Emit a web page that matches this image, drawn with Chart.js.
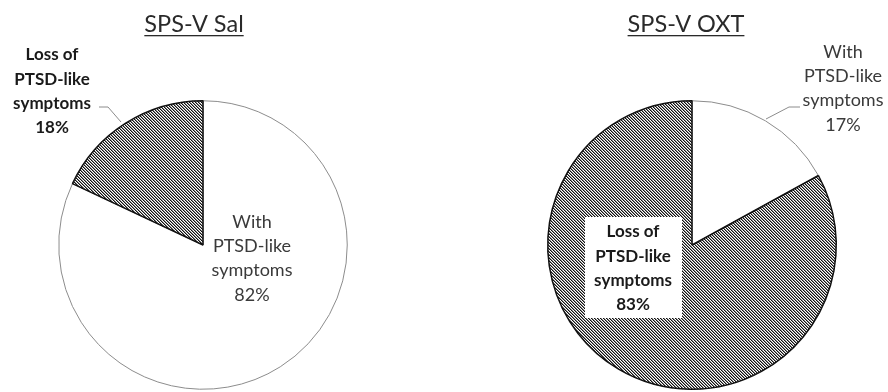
<!DOCTYPE html>
<html lang="en">
<head>
<meta charset="UTF-8">
<title>SPS-V pie charts</title>
<script src="https://cdn.jsdelivr.net/npm/chart.js"></script>
<style>
  html, body { margin: 0; padding: 0; background: #fff; overflow: hidden; }
  .wrap { position: absolute; top: 0; width: 444px; height: 400px; }
  #left { left: 0; }
  #right { left: 444px; }
</style>
</head>
<body>
<div class="wrap" id="left"><canvas id="salChart" width="444" height="400"></canvas></div>
<div class="wrap" id="right"><canvas id="oxtChart" width="444" height="400"></canvas></div>
<script>
// groups and percentages
const titles = ['SPS-V Sal', 'SPS-V OXT'];
const groups = ['With PTSD-like symptoms', 'Loss of PTSD-like symptoms'];
const salValues = [82, 18];
const oxtValues = [17, 83];

const FONT = 'Lato, "Open Sans", sans-serif';

// diagonal hatch used for the "loss" slice
function hatch() {
  const c = document.createElement('canvas');
  c.width = 3; c.height = 3;
  const g = c.getContext('2d');
  g.fillStyle = '#ffffff';
  g.fillRect(0, 0, 3, 3);
  for (let i = 0; i < 3; i++) {
    g.fillStyle = '#111111';
    g.fillRect(i, i, 1, 1);
    g.fillStyle = '#8a8a8a';
    g.fillRect((i + 1) % 3, i, 1, 1);
  }
  return g.createPattern(c, 'repeat');
}

function labelLines(group, value) {
  const lines = group === groups[0] ? ['With', 'PTSD-like', 'symptoms'] : ['Loss of', 'PTSD-like', 'symptoms'];
  return lines.concat([value + '%']);
}

// titles, slice labels and leader lines
const annotate = {
  id: 'annotate',
  afterDatasetsDraw(chart, args, opts) {
    const ctx = chart.ctx;
    ctx.save();
    // title, underlined
    ctx.font = '23.5px ' + FONT;
    ctx.fillStyle = '#2a2a2a';
    ctx.textAlign = 'center';
    ctx.textBaseline = 'alphabetic';
    ctx.fillText(opts.title, opts.titleX, 32);
    const w = ctx.measureText(opts.title).width;
    ctx.fillRect(opts.titleX - w / 2, 35, w, 1.3);

    opts.labels.forEach(l => {
      const vals = chart.data.datasets[0].data;
      const lines = labelLines(chart.data.labels[l.index], vals[l.index]);
      if (l.box) {
        ctx.fillStyle = '#fff';
        ctx.fillRect(l.box[0], l.box[1], l.box[2], l.box[3]);
      }
      if (l.leader) {
        ctx.strokeStyle = '#8c8c8c';
        ctx.lineWidth = 1;
        ctx.beginPath();
        l.leader.forEach((p, i) => i ? ctx.lineTo(p[0], p[1]) : ctx.moveTo(p[0], p[1]));
        ctx.stroke();
      }
      ctx.font = (l.bold ? 'bold 17px ' : '18px ') + FONT;
      ctx.fillStyle = l.bold ? '#1a1a1a' : '#3a3a3a';
      ctx.textBaseline = 'middle';
      lines.forEach((t, i) => ctx.fillText(t, l.x, l.y + i * 24.3));
    });
    ctx.restore();
  }
};

function pie(id, values, pad, annot) {
  const dash = hatch();
  return new Chart(document.getElementById(id), {
    type: 'pie',
    data: {
      labels: groups,
      datasets: [{
        data: values,
        backgroundColor: ['#ffffff', dash],
        borderColor: ['#8c8c8c', '#111111'],
        borderWidth: [1, 1.5]
      }]
    },
    options: {
      responsive: false,
      animation: false,
      devicePixelRatio: 1,
      layout: { padding: pad },
      plugins: {
        legend: { display: false },
        tooltip: { enabled: false },
        annotate: annot
      }
    },
    plugins: [annotate]
  });
}

pie('salChart', salValues, { left: 58, right: 96, top: 100, bottom: 10 }, {
  title: titles[0], titleX: 194,
  labels: [
    { index: 1, x: 52, y: 55, bold: true, leader: [[99, 107], [108, 107], [121, 122]] },
    { index: 0, x: 252, y: 222, bold: false }
  ]
});

pie('oxtChart', oxtValues, { left: 103, right: 51, top: 100, bottom: 10 }, {
  title: titles[1], titleX: 242,
  labels: [
    { index: 0, x: 399, y: 52, bold: false, leader: [[356, 107], [345, 107], [322, 119]] },
    { index: 1, x: 189, y: 232, bold: true, box: [141, 217, 97, 101] }
  ]
});
</script>
</body>
</html>
